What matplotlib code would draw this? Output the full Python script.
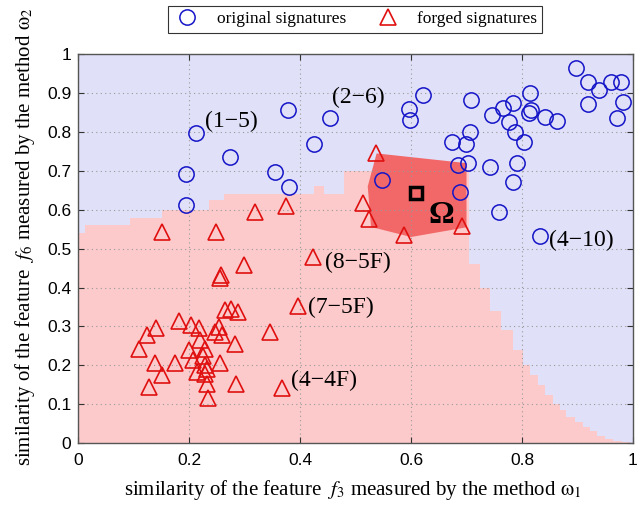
import matplotlib
matplotlib.use("Agg")
import matplotlib.pyplot as plt
from matplotlib.lines import Line2D

# ---- data ----
orig_x = [0.213, 0.195, 0.195, 0.274, 0.379, 0.454, 0.425, 0.354, 0.381, 0.596,
          0.599, 0.621, 0.547, 0.673, 0.699, 0.706, 0.708, 0.703, 0.685, 0.688,
          0.746, 0.765, 0.783, 0.776, 0.787, 0.803, 0.791, 0.784, 0.742, 0.814,
          0.816, 0.813, 0.842, 0.864, 0.897, 0.919, 0.938, 0.919, 0.960, 0.978,
          0.982, 0.972, 0.758, 0.832]
orig_y = [0.798, 0.693, 0.612, 0.737, 0.857, 0.835, 0.768, 0.696, 0.659, 0.858,
          0.830, 0.896, 0.676, 0.774, 0.768, 0.800, 0.883, 0.720, 0.715, 0.646,
          0.843, 0.861, 0.874, 0.826, 0.800, 0.774, 0.720, 0.671, 0.710, 0.900,
          0.857, 0.848, 0.839, 0.829, 0.965, 0.928, 0.909, 0.872, 0.928, 0.928,
          0.878, 0.837, 0.594, 0.532]

forg_x = [0.151, 0.249, 0.319, 0.375, 0.258, 0.256, 0.299, 0.424, 0.397, 0.514,
          0.524, 0.537, 0.588, 0.691, 0.346, 0.367,
          0.109, 0.124, 0.140, 0.127, 0.139, 0.152, 0.175, 0.181, 0.204, 0.218,
          0.199, 0.208, 0.220, 0.229, 0.214, 0.229, 0.228, 0.232, 0.235, 0.254,
          0.259, 0.265, 0.276, 0.289, 0.282, 0.256, 0.284, 0.247, 0.226, 0.233]
forg_y = [0.543, 0.543, 0.595, 0.609, 0.432, 0.425, 0.458, 0.479, 0.352, 0.617,
          0.576, 0.745, 0.535, 0.558, 0.286, 0.141,
          0.243, 0.279, 0.296, 0.145, 0.205, 0.175, 0.205, 0.314, 0.303, 0.295,
          0.239, 0.213, 0.265, 0.243, 0.183, 0.200, 0.179, 0.153, 0.115, 0.299,
          0.278, 0.342, 0.346, 0.338, 0.256, 0.205, 0.153, 0.286, 0.225, 0.190]

# decision region (forged class) as a staircase
region_edges = [0.0, 0.013, 0.094, 0.152, 0.236, 0.263, 0.426, 0.444, 0.48, 0.705,
                0.724, 0.742, 0.763, 0.784, 0.802, 0.815, 0.828, 0.842, 0.856, 0.868,
                0.880, 0.895, 0.910, 0.922, 0.935, 0.950, 0.964, 0.980, 0.995]
region_heights = [0.54, 0.56, 0.58, 0.60, 0.625, 0.64, 0.66, 0.64, 0.70,
                  0.46, 0.40, 0.34, 0.29, 0.24, 0.20, 0.175, 0.15, 0.125, 0.10,
                  0.085, 0.068, 0.055, 0.042, 0.03, 0.018, 0.01, 0.005, 0.002]

omega_x = [0.538, 0.700, 0.700, 0.600, 0.528, 0.522]
omega_y = [0.745, 0.720, 0.555, 0.530, 0.556, 0.660]
center = (0.609, 0.643)

labels = ["(1\u22125)", "(2\u22126)", "(8\u22125F)", "(7\u22125F)", "(4\u22124F)", "(4\u221210)"]
label_x = [0.229, 0.458, 0.445, 0.415, 0.383, 0.848]
label_y = [0.828, 0.889, 0.465, 0.350, 0.160, 0.520]

xticks = [0, 0.2, 0.4, 0.6, 0.8, 1]
yticks = [0, 0.1, 0.2, 0.3, 0.4, 0.5, 0.6, 0.7, 0.8, 0.9, 1]

# ---- figure ----
plt.rcParams['mathtext.fontset'] = 'stix'
fig = plt.figure(figsize=(6.4, 5.07), dpi=100)
ax = fig.add_axes([0.122, 0.126, 0.867, 0.767])
ax.set_facecolor('#e0e0f8')

ax.stairs(region_heights, region_edges, fill=True, color='#fccaca', baseline=0, zorder=1)
ax.fill(omega_x, omega_y, color='#f26868', zorder=1.2, lw=0)

ax.plot(orig_x, orig_y, 'o', mfc='none', mec='#1414c8', ms=11, mew=1.1, zorder=3)
ax.plot(forg_x, forg_y, '^', mfc='none', mec='#e01010', ms=12, mew=1.2, zorder=3)
ax.plot([center[0]], [center[1]], 's', mfc='none', mec='black', ms=9, mew=2.5, zorder=4)
ax.text(center[0] + 0.022, center[1] - 0.078, "\u03a9", fontsize=23, fontweight='bold',
        family='Liberation Serif', zorder=5)

for t, x, y in zip(labels, label_x, label_y):
    ax.text(x, y, t, fontsize=17, family='Liberation Serif', va='center', ha='left', zorder=5)

ax.set_xlim(0, 1)
ax.set_ylim(0, 1)
ax.set_xticks(xticks)
ax.set_yticks(yticks)
ax.set_xticklabels(["0", "0.2", "0.4", "0.6", "0.8", "1"])
ax.set_yticklabels(["0", "0.1", "0.2", "0.3", "0.4", "0.5", "0.6", "0.7", "0.8", "0.9", "1"])
ax.tick_params(direction='in', top=True, right=True, labelsize=12.5, length=4, width=0.8,
               colors='#333333', labelcolor='black')
ax.tick_params(axis='x', pad=7)
ax.tick_params(axis='y', pad=5)
for lab in ax.get_xticklabels() + ax.get_yticklabels():
    lab.set_family('Liberation Sans')
ax.grid(True, linestyle=(0, (1, 3)), color='#999999', lw=0.8)
for s in ax.spines.values():
    s.set_color('#555555')
    s.set_linewidth(1.0)

ax.set_xlabel(r"similarity of the feature  $f_3$ measured by the method $\mathrm{\omega}_1$",
              family='Liberation Serif', fontsize=15)
ax.set_ylabel(r"similarity of the feature  $f_6$ measured by the method $\mathrm{\omega}_2$",
              family='Liberation Serif', fontsize=15)
ax.xaxis.set_label_coords(0.495, -0.121)
ax.yaxis.set_label_coords(-0.095, 0.53)
ax.xaxis.label.set_va('center')
ax.yaxis.label.set_va('center')

handles = [Line2D([], [], marker='o', ls='none', mfc='none', mec='#1414c8', ms=11, mew=1.1),
           Line2D([], [], marker='^', ls='none', mfc='none', mec='#e01010', ms=12, mew=1.2)]
leg = fig.legend(handles, ["original signatures", "forged signatures"], loc='center',
                 bbox_to_anchor=(0.555, 0.962), ncol=2, frameon=True, fancybox=False,
                 edgecolor='black', prop={'family': 'Liberation Serif', 'size': 12.5},
                 handletextpad=0.9, columnspacing=1.6, borderpad=0.3, handlelength=1.6)
leg.get_frame().set_linewidth(0.8)

fig.savefig("out.png", dpi=100)
